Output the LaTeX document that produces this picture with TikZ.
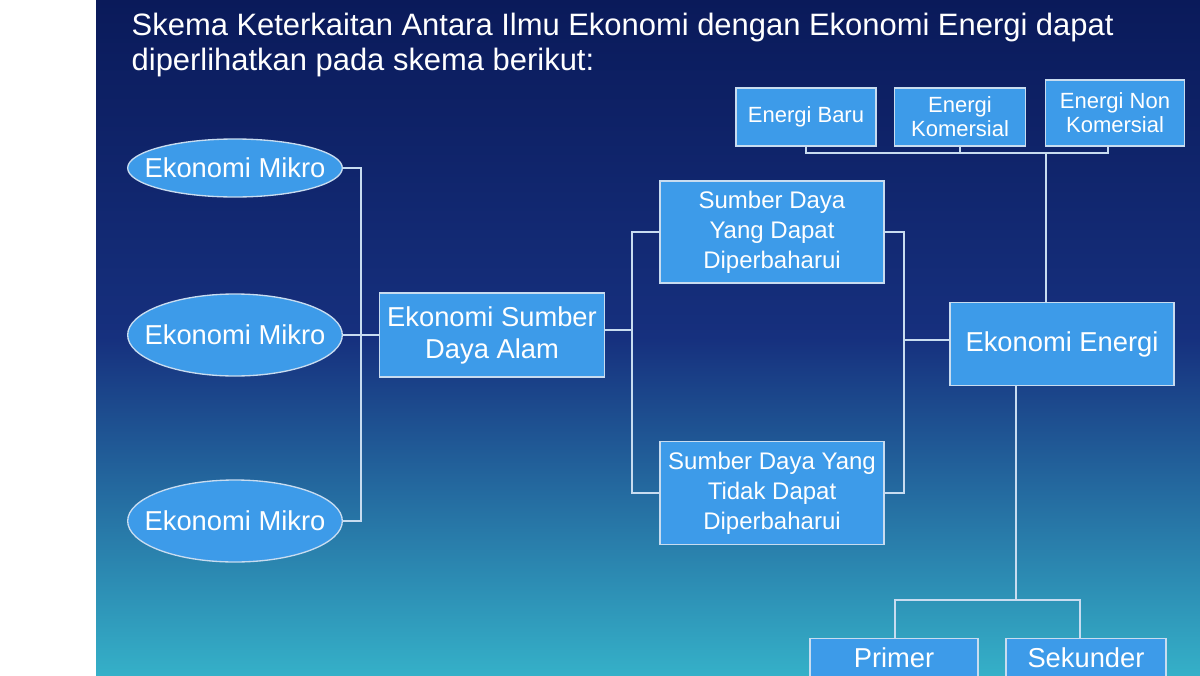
\documentclass[tikz,border=0pt]{standalone}
\usepackage{fontspec}
\setmainfont{Liberation Sans}
\usetikzlibrary{shapes.geometric}
\definecolor{bxfill}{HTML}{3D9BE9}
\definecolor{bxline}{HTML}{C8DCF0}
\definecolor{bgtop}{HTML}{0A1A5A}
\definecolor{bgmid}{HTML}{16307E}
\definecolor{bgbot}{HTML}{35B0C8}
\begin{document}
\begin{tikzpicture}[x=0.75pt,y=-0.75pt,
 bx/.style={draw=bxline,fill=bxfill,line width=1pt,text=white,align=center,inner sep=1pt,font=\fontsize{20.5}{24}\selectfont},
 sm/.style={bx,font=\fontsize{16.5}{18}\selectfont},
 el/.style={bx,ellipse,inner sep=0pt},
 ln/.style={draw=bxline,line width=1pt}]
\useasboundingbox (0,0) rectangle (1200,675);
\fill[white] (0,0) rectangle (96,675);
\shade[top color=bgtop,bottom color=bgbot,middle color=bgmid,shading angle=0] (96,0) rectangle (1200,675);
\node[anchor=north west,text=white,align=left,font=\fontsize{23.2}{26.5}\selectfont] (title) at (127,8) {Skema Keterkaitan Antara Ilmu Ekonomi dengan Ekonomi Energi dapat\\diperlihatkan pada skema berikut:};
\node[el,minimum width=161pt,minimum height=43.5pt] (m1) at (235,168) {\makebox[0pt]{Ekonomi Mikro}};
\node[el,minimum width=161pt,minimum height=61.5pt] (m2) at (235,335) {\makebox[0pt]{Ekonomi Mikro}};
\node[el,minimum width=161pt,minimum height=61.5pt] (m3) at (235,521) {\makebox[0pt]{Ekonomi Mikro}};
\node[bx,minimum width=169pt,minimum height=63pt] (sda) at (492,335) {Ekonomi Sumber\\Daya Alam};
\node[bx,minimum width=168pt,minimum height=76.5pt,font=\fontsize{18}{22.5}\selectfont] (r1) at (772,232) {Sumber Daya\\Yang Dapat\\Diperbaharui};
\node[bx,minimum width=168pt,minimum height=77pt,font=\fontsize{18}{22.5}\selectfont] (r2) at (772,493) {Sumber Daya Yang\\Tidak Dapat\\Diperbaharui};
\node[bx,minimum width=168pt,minimum height=62pt] (ee) at (1062,344) {Ekonomi Energi};
\node[sm,minimum width=105pt,minimum height=43.5pt] (t1) at (806,117) {Energi Baru};
\node[sm,minimum width=98pt,minimum height=43.5pt] (t2) at (960,117) {Energi\\Komersial};
\node[sm,minimum width=104pt,minimum height=49.5pt] (t3) at (1115,113) {Energi Non\\Komersial};
\node[bx,minimum width=126pt,minimum height=28.5pt,anchor=north] (p) at (894,638) {Primer};
\node[bx,minimum width=120pt,minimum height=28.5pt,anchor=north] (s) at (1086,638) {Sekunder};
\coordinate (a) at (361,335);
\coordinate (b) at (632,330);
\coordinate (c) at (904,340);
\coordinate (d) at (1046,153);
\coordinate (e) at (1016,600);
\coordinate (t3b) at (1108,146);
\coordinate (pb) at (895,638);
\coordinate (sb) at (1080,638);
\path[ln] (m1.east) -| (a) |- (m3.east);
\path[ln] (m2.east) -- (sda.west);
\path[ln] (sda.east |- b) -- (b);
\path[ln] (r1.west) -| (b) |- (r2.west);
\path[ln] (r1.east) -| (c) |- (r2.east);
\path[ln,line width=2pt] (c) -- (ee.west |- c);
\path[ln] (ee.north -| d) -- (d);
\path[ln] (806,146) -- (806,153) -- (1108,153) -- (t3b);
\path[ln] (t2.south) -- (960,153);
\path[ln] (ee.south -| e) -- (e);
\path[ln] (pb) -- (895,600) -- (1080,600) -- (sb);
\end{tikzpicture}
\end{document}
